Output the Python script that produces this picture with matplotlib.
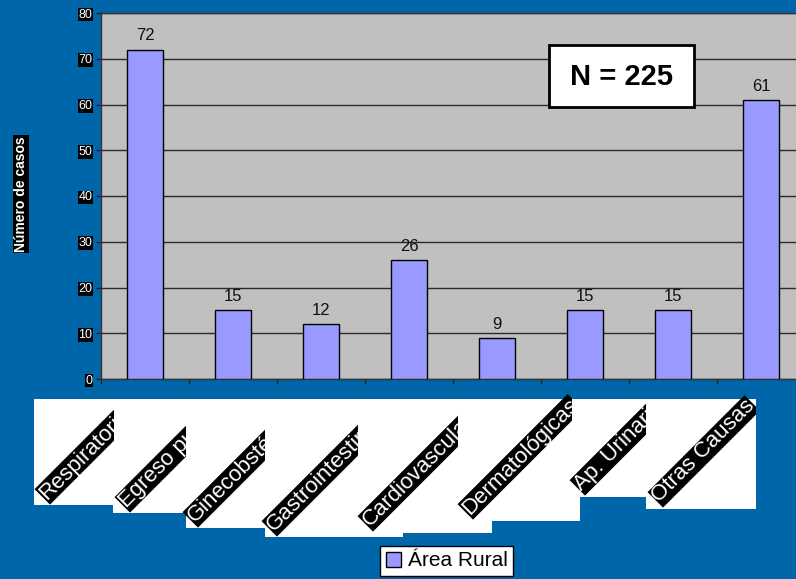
import numpy as np
import matplotlib
matplotlib.use("Agg")
import matplotlib.pyplot as plt
from matplotlib.patches import Rectangle
from matplotlib.transforms import Bbox, TransformedBbox

# chart data
causas = ["Respiratorias", "Egreso puerperal", "Ginecobstétricas",
          "Gastrointestinales", "Cardiovasculares", "Dermatológicas",
          "Ap. Urinario", "Otras Causas"]
casos = [72, 15, 12, 26, 9, 15, 15, 61]
serie = "Área Rural"
total = "N = 225"
yticks = [0, 10, 20, 30, 40, 50, 60, 70, 80]

# figure size in pixels
W, H = 796, 579
BG = "#0066AA"
PLOT_BG = "#C0C0C0"
BAR = "#9999FF"

plt.rcParams['font.family'] = ['Liberation Sans', 'DejaVu Sans']

def fx(x):
    return x / W

def fy(y):
    return 1 - y / H

fig = plt.figure(figsize=(W / 100, H / 100), dpi=100, facecolor=BG)

# plot area runs off the right edge, like the original slide
ax = fig.add_axes([fx(101), fy(379), 704 / W, 366 / H])
ax.set_facecolor(PLOT_BG)

x = np.arange(len(causas)) + 0.5
bars = ax.bar(x, casos, width=0.4, color=BAR, edgecolor="black",
              linewidth=1, label=serie, zorder=3)
ax.bar_label(bars, labels=[str(v) for v in casos], padding=4.5,
             fontsize=12, color="#111111")

ax.set_xlim(0, 8)
ax.set_ylim(0, 80)
ax.set_yticks(yticks)
ax.set_xticks(np.arange(0, 9))
ax.set_xticklabels([])
ax.yaxis.grid(True, color="#2a2a2a", linewidth=1)
ax.set_axisbelow(True)

ax.tick_params(axis="y", direction="out", length=3.6, width=1,
               color="#222222", pad=2.5, labelsize=9, labelcolor="white")
ax.tick_params(axis="x", direction="out", length=3.6, width=1,
               color="#222222")
for lbl in ax.get_yticklabels():
    lbl.set_bbox(dict(facecolor="black", edgecolor="none", pad=0.6))

for side in ["left", "bottom", "top"]:
    ax.spines[side].set_color("#333333")
    ax.spines[side].set_linewidth(1)
ax.spines["right"].set_visible(False)

# y axis title
fig.text(fx(21), fy(194), "Número de casos", rotation=90, ha="center",
         va="center", fontsize=10, fontweight="bold", color="white",
         bbox=dict(facecolor="black", edgecolor="none", pad=0.8))

# white panels behind the category labels: (left, right, bottom)
paneles = [(34, 113, 505), (113, 186, 513), (186, 265, 528), (265, 403, 537),
           (403, 492, 533), (492, 580, 521), (580, 646, 497), (646, 756, 509)]
for x0, x1, y1 in paneles:
    fig.patches.append(Rectangle((fx(x0), fy(y1)), (x1 - x0) / W,
                                 (y1 - 399) / H, transform=fig.transFigure,
                                 facecolor="white", edgecolor="none"))

# rotated labels, each cut off at the edge of its panel
esquinas = [(50, 505), (130, 513), (198, 528), (277, 537),
            (373, 532), (473, 520), (585, 496), (663, 508)]
cortes = [114, 186, 265, 358, 458, 572, 646, 756]
for nombre, (bx, by), cx in zip(causas, esquinas, cortes):
    t = fig.text(fx(bx), fy(by - 1), nombre, rotation=45,
                 rotation_mode="anchor", ha="left", va="bottom",
                 fontsize=16, color="white",
                 bbox=dict(facecolor="black", edgecolor="none", pad=0.3))
    t.set_clip_box(TransformedBbox(Bbox([[0, 0], [fx(cx), 1]]),
                                   fig.transFigure))

# total count box
fig.patches.append(Rectangle((fx(549), fy(107)), 145 / W, 62 / H,
                             transform=fig.transFigure, facecolor="white",
                             edgecolor="black", linewidth=2, zorder=5))
fig.text(fx(621.5), fy(77), total, ha="center", va="center",
         fontsize=21, fontweight="bold", color="black", zorder=6)

leg = fig.legend(handles=[bars], loc="center",
                 bbox_to_anchor=(fx(446.5), fy(561)), fontsize=15,
                 fancybox=False, framealpha=1, edgecolor="black",
                 borderpad=0.25, handlelength=0.75, handleheight=0.75,
                 handletextpad=0.3, borderaxespad=0)
leg.get_frame().set_linewidth(1)

fig.savefig("out.png", dpi=100, facecolor=BG)
